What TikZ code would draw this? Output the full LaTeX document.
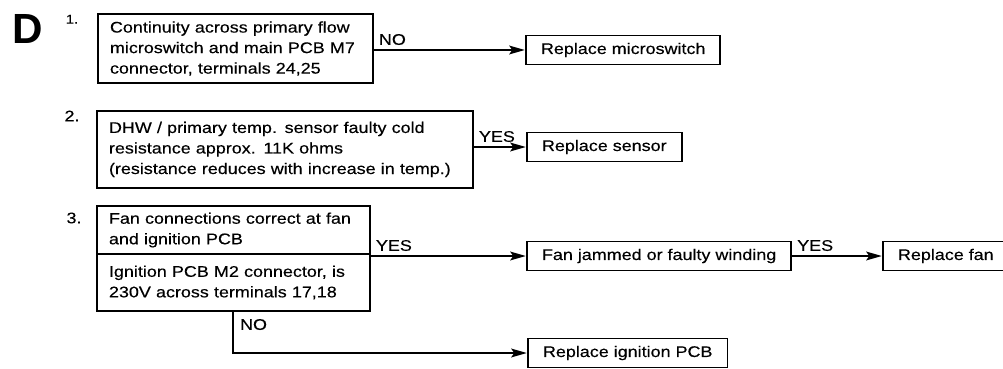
\documentclass[tikz,border=0pt]{standalone}
\usepackage{fontspec}
\setmainfont{Liberation Sans}[FakeStretch=1.16,FakeBold=0.3]
\newfontfamily\headfont{Liberation Sans}
\usetikzlibrary{arrows.meta,positioning}
\newcommand{\boxfont}{\fontsize{11}{14.6}\selectfont}
\tikzset{
check/.style={draw,line width=1.4pt,anchor=north west,align=left,inner xsep=0.3cm,inner ysep=0pt,font=\boxfont},
action/.style={draw,line width=1.4pt,anchor=west,inner xsep=0.375cm,inner ysep=0pt,minimum height=0.725cm,font=\boxfont},
arrow/.style={-{Stealth[length=11pt,width=6pt,inset=2pt]},line width=2.1pt},
answer/.style={font=\boxfont,inner sep=2.5pt},
stepno/.style={font=\boxfont,inner sep=0pt}
}

\begin{document}
\begin{tikzpicture}
\useasboundingbox (0,0) rectangle (25.075,9.2);
\node[font=\headfont\bfseries\fontsize{30}{30}\selectfont,inner sep=0pt] (title) at (0.7,8.475) {D};

% step 1
\node[stepno,font=\fontsize{9}{9}\selectfont] (n1) at (1.8,8.72) {1.};
\node[check,text width=6.275cm,minimum height=1.725cm] (cont) at (2.425,8.875) {Continuity across primary flow\\microswitch and main PCB M7\\connector, terminals 24,25};
\node[action] (rswitch) at (13.125,7.95) {Replace microswitch};
\draw[arrow] (cont.east |- rswitch) -- node[answer,pos=0,above right]{NO} (rswitch);

% step 2
\node[stepno] (n2) at (1.8,6.3) {2.};
\node[check,text width=8.8cm,minimum height=1.925cm] (sensor) at (2.4,6.45) {DHW / primary temp. sensor faulty cold\\resistance approx. 11K ohms\\(resistance reduces with increase in temp.)};
\node[action] (rsensor) at (13.15,5.525) {Replace sensor};
\draw[arrow] (sensor.east |- rsensor) -- node[answer,pos=0,above right]{YES} (rsensor);

% step 3
\node[stepno] (n3) at (1.85,3.75) {3.};
\node[check,text width=6.225cm,minimum height=1.2cm] (fanconn) at (2.4,4.075) {Fan connections correct at fan\\and ignition PCB};
\node[check,text width=6.225cm,minimum height=1.425cm] (ign) at (2.4,2.875) {Ignition PCB M2 connector, is\\230V across terminals 17,18};
\node[action] (fanjam) at (13.15,2.8) {Fan jammed or faulty winding};
\node[action] (rfan) at (22.05,2.8) {Replace fan};
\node[action] (ripcb) at (13.175,0.375) {Replace ignition PCB};
\coordinate (nobend) at (5.825,0.375);
\draw[arrow] (ign.east |- fanjam) -- node[answer,pos=0,above right]{YES} (fanjam);
\draw[arrow] (fanjam) -- node[answer,pos=0,above right]{YES} (rfan);
\draw[arrow] (nobend |- ign.south) -- node[answer,pos=0,below right,inner sep=4pt]{NO} (nobend) -- (ripcb);
\end{tikzpicture}
\end{document}
